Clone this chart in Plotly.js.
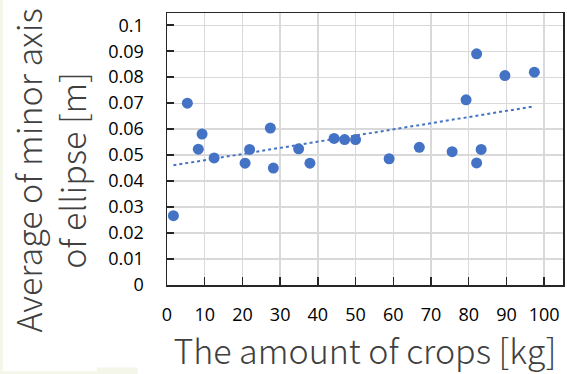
<!DOCTYPE html>
<html>
<head>
<meta charset="utf-8">
<script src="https://cdn.plot.ly/plotly-3.0.1.min.js"></script>
<style>html,body{margin:0;padding:0;background:#fff;}#chart{width:567px;height:374px;}</style>
</head>
<body>
<div id="chart"></div>
<script>
// Data
const cropsKg = [1.7, 5.4, 8.3, 9.3, 12.5, 20.7, 21.9, 27.4, 28.2, 34.9, 37.9, 44.3, 47.1, 50.0, 58.9, 66.9, 75.6, 79.3, 82.1, 82.1, 83.3, 89.6, 97.4];
const minorAxis = [0.0267, 0.0700, 0.0523, 0.0581, 0.0489, 0.0469, 0.0522, 0.0604, 0.0450, 0.0524, 0.0469, 0.0564, 0.0560, 0.0560, 0.0486, 0.0530, 0.0513, 0.0713, 0.0470, 0.0890, 0.0522, 0.0806, 0.0819];
const xTickVals = [0, 10, 20, 30, 40, 50, 60, 70, 80, 90, 100];
const yTickVals = [0, 0.01, 0.02, 0.03, 0.04, 0.05, 0.06, 0.07, 0.08, 0.09, 0.1];
const yTickText = ['0', '0.01', '0.02', '0.03', '0.04', '0.05', '0.06', '0.07', '0.08', '0.09', '0.1'];
const xTitle = 'The amount of crops [kg]';
const yTitle = 'Average of minor axis<br>of ellipse [m]';

// Linear least-squares trendline computed from the data
const n = cropsKg.length;
const mx = cropsKg.reduce((a, b) => a + b, 0) / n;
const my = minorAxis.reduce((a, b) => a + b, 0) / n;
let sxy = 0, sxx = 0;
for (let i = 0; i < n; i++) { sxy += (cropsKg[i] - mx) * (minorAxis[i] - my); sxx += (cropsKg[i] - mx) ** 2; }
const slope = sxy / sxx, icpt = my - slope * mx;
const xMin = Math.min(...cropsKg), xMax = Math.max(...cropsKg);
const trendX = [xMin, xMax];
const trendY = trendX.map(x => icpt + slope * x);

const blue = '#4472C4';
const tickFont = {family: 'Open Sans, sans-serif', size: 18, color: '#000'};
const titleFont = {family: 'Noto Sans CJK JP, sans-serif', size: 34, color: '#404040', weight: 300};

const traces = [
  {x: trendX, y: trendY, mode: 'lines', type: 'scatter', line: {color: blue, width: 2, dash: 'dot'}, hoverinfo: 'skip'},
  {x: cropsKg, y: minorAxis, mode: 'markers', type: 'scatter', marker: {color: blue, size: 11}}
];

const layout = {
  width: 567, height: 374,
  margin: {l: 167, r: 4, t: 13, b: 89},
  paper_bgcolor: '#ffffff', plot_bgcolor: '#ffffff',
  showlegend: false,
  xaxis: {
    range: [0, 105], tickvals: xTickVals, ticktext: xTickVals.map(String),
    showgrid: true, gridcolor: '#d9d9d9', gridwidth: 1.3,
    zeroline: false, showline: true, linecolor: '#262626', linewidth: 1.5, mirror: true,
    ticks: 'inside', ticklen: 8, tickwidth: 1.5, tickcolor: '#262626',
    tickfont: tickFont, ticklabelstandoff: 13,
    title: {text: xTitle, font: titleFont, standoff: 10}
  },
  yaxis: {
    range: [0, 0.1047], tickvals: yTickVals, ticktext: yTickText,
    showgrid: true, gridcolor: '#d9d9d9', gridwidth: 1.3,
    zeroline: false, showline: true, linecolor: '#262626', linewidth: 1.5, mirror: true,
    ticks: 'inside', ticklen: 7, tickwidth: 1.5, tickcolor: '#262626',
    tickfont: tickFont, ticklabelstandoff: 18
  },
  annotations: [{
    text: yTitle, xref: 'paper', yref: 'paper', x: -0.296, y: 0.42,
    xanchor: 'center', yanchor: 'middle', textangle: -90, showarrow: false,
    font: titleFont, align: 'center'
  }],
  shapes: [
    {type: 'rect', xref: 'paper', yref: 'paper', x0: -0.4217, x1: -0.414, y0: -0.327, y1: 1.048, fillcolor: '#f3f6e8', line: {width: 0}, layer: 'below'},
    {type: 'rect', xref: 'paper', yref: 'paper', x0: -0.4217, x1: -0.177, y0: -0.327, y1: -0.317, fillcolor: '#f3f6e8', line: {width: 0}, layer: 'below'},
    {type: 'rect', xref: 'paper', yref: 'paper', x0: -0.177, x1: -0.074, y0: -0.327, y1: -0.303, fillcolor: '#f3f6e8', line: {width: 0}, layer: 'below'}
  ]
};

Plotly.newPlot('chart', traces, layout, {displayModeBar: false, staticPlot: true});
</script>
</body>
</html>
